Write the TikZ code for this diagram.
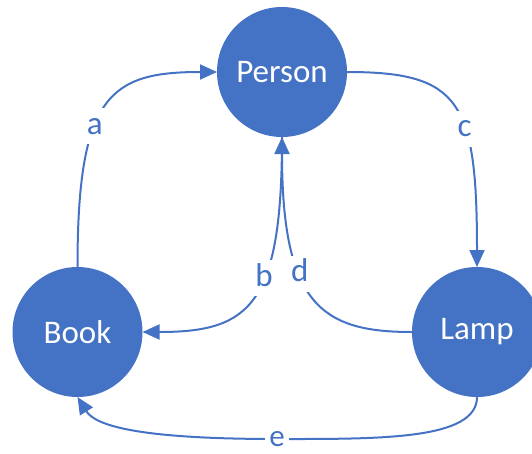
\documentclass[tikz,border=0pt]{standalone}
\usepackage{fontspec}
\setmainfont{Carlito}
\usetikzlibrary{arrows.meta}
\definecolor{officeblue}{HTML}{4472C4}
\tikzset{
  entity/.style={circle, fill=officeblue, text=white, minimum size=130pt,
                 inner sep=0pt, outer sep=0pt, font=\fontsize{33}{40}\selectfont},
  link/.style={draw=officeblue, line width=2pt,
               -{Triangle[length=17pt,width=15pt]}},
  tag/.style={fill=white, text=officeblue, inner xsep=4pt, inner ysep=2pt,
              text height=24pt, text depth=8pt,
              font=\fontsize{33}{40}\selectfont},
  flattag/.style={tag, inner ysep=0pt, text height=15pt, text depth=0pt,
                  font=\fontsize{31}{36}\selectfont}
}
\begin{document}
\begin{tikzpicture}[x=1pt,y=-1pt]
  \useasboundingbox (0,0) rectangle (532,453);

  % entities
  \node[entity] (person) at (282,72)  {Person};
  \node[entity] (book)   at (77.5,332) {Book};
  \node[entity] (lamp)   at (477,332) {Lamp};

  % a : Book -> Person
  \draw[link] (book.north) .. controls +(0,-172) and +(-107,0) .. (person.west)
    node[tag, pos=0.39] {a};

  % c : Person -> Lamp
  \draw[link] (person.east) .. controls +(113,0) and +(0,-166) .. (lamp.north)
    node[tag, pos=0.61] {c};

  % d : Lamp -> Person
  \draw[link] (lamp.west) .. controls +(-90,0) and +(0,168) .. (person.south)
    node[tag, pos=0.62] {d};

  % b : Person -> Book
  \draw[link] (person.south) .. controls +(0,168) and +(108,0) .. (book.east)
    node[tag, pos=0.4] {b};

  % e : Lamp -> Book, along the bottom
  \coordinate (ebase) at (277,439);
  \draw[link] (lamp.south) .. controls +(0,43) and +(103,0) .. (ebase)
    .. controls +(-137,0) and +(18,29) .. (book.south);
  \node[flattag] (etag) at (ebase) {e};
\end{tikzpicture}
\end{document}
